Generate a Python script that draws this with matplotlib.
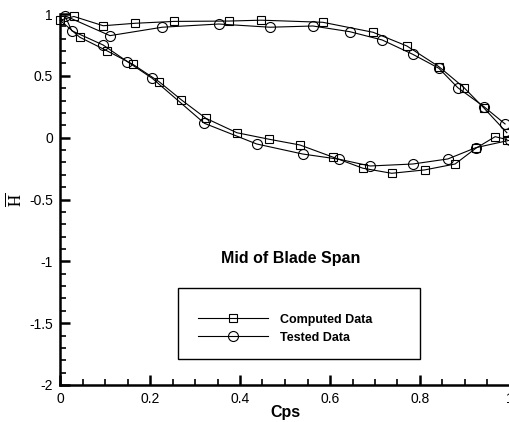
import matplotlib
matplotlib.use("Agg")
import matplotlib.pyplot as plt
from matplotlib.patches import Rectangle
from matplotlib.ticker import MultipleLocator

plt.rcParams['font.family'] = ['Liberation Sans', 'DejaVu Sans']
plt.rcParams['mathtext.fontset'] = 'stix'

# Computed data (squares): upper surface TE -> LE, then lower surface LE -> TE
comp_x = [0.993, 0.942, 0.898, 0.842, 0.771, 0.696, 0.584, 0.447, 0.376, 0.253, 0.167,
          0.096, 0.031, 0.000, 0.044, 0.104, 0.162, 0.220, 0.270, 0.324, 0.393, 0.465,
          0.533, 0.607, 0.673, 0.737, 0.810, 0.878, 0.924, 0.967, 0.993]
comp_y = [0.040, 0.240, 0.404, 0.574, 0.741, 0.852, 0.933, 0.950, 0.943, 0.940, 0.925,
          0.905, 0.980, 0.950, 0.812, 0.703, 0.593, 0.453, 0.305, 0.157, 0.040, -0.013,
          -0.059, -0.158, -0.247, -0.288, -0.261, -0.213, -0.086, 0.008, -0.015]

# Tested data (circles)
test_x = [0.989, 0.942, 0.884, 0.842, 0.784, 0.716, 0.644, 0.562, 0.467, 0.353, 0.227,
          0.111, 0.011, 0.026, 0.096, 0.150, 0.205, 0.321, 0.437, 0.539, 0.621, 0.689,
          0.784, 0.862, 0.924, 1.000]
test_y = [0.111, 0.251, 0.404, 0.561, 0.674, 0.790, 0.857, 0.903, 0.893, 0.919, 0.893,
          0.825, 0.986, 0.865, 0.749, 0.614, 0.480, 0.116, -0.051, -0.132, -0.175, -0.229,
          -0.213, -0.172, -0.081, -0.020]

W, H = 510, 422
fig = plt.figure(figsize=(W / 100, H / 100), dpi=100)
ax = fig.add_axes([60 / W, 1 - 385 / H, 1 - 60 / W, (385 - 14) / H])

ax.plot(comp_x, comp_y, color='black', lw=0.8, marker='s', ms=5.3, mfc='none',
        mec='black', mew=0.8, clip_on=False, label='Computed Data')
ax.plot(test_x, test_y, color='black', lw=0.8, marker='o', ms=7.2, mfc='none',
        mec='black', mew=0.8, clip_on=False, label='Tested Data')

ax.set_xlim(0, 1)
ax.set_ylim(-2, 1)
ax.xaxis.set_minor_locator(MultipleLocator(0.05))
ax.yaxis.set_minor_locator(MultipleLocator(0.1))
ax.set_xticks([0, 0.2, 0.4, 0.6, 0.8, 1.0])
ax.set_xticklabels(['0', '0.2', '0.4', '0.6', '0.8', '1'])
ax.set_yticks([-2, -1.5, -1, -0.5, 0, 0.5, 1])
ax.set_yticklabels(['-2', '-1.5', '-1', '-0.5', '0', '0.5', '1'])

for s in ['top', 'right']:
    ax.spines[s].set_visible(False)
for s in ['left', 'bottom']:
    ax.spines[s].set_linewidth(1.8)
ax.tick_params(which='major', direction='in', length=7, width=1.8, labelsize=10, pad=5)
ax.tick_params(which='minor', direction='in', length=4.5, width=1.2)

ax.set_xlabel('Cps', fontsize=11.5, fontweight='bold', labelpad=-1)
ax.set_ylabel(r'$\overline{\mathrm{H}}$', fontsize=12, labelpad=4)

fig.text(291 / W, 1 - 258 / H, 'Mid of Blade Span', fontsize=11.5, fontweight='bold',
         ha='center', va='center')

fig.patches.append(Rectangle((178 / W, 1 - 359 / H), (420 - 178) / W, (359 - 288) / H,
                             transform=fig.transFigure, fill=False, ec='black', lw=1.0))

leg = fig.legend(loc='upper left', bbox_to_anchor=(198 / W, 1 - 313.5 / H), frameon=False,
                 borderpad=0, borderaxespad=0, handlelength=5.6, handletextpad=1.0,
                 labelspacing=0.5, prop={'weight': 'bold', 'size': 9})

fig.savefig('out.png', dpi=100)
